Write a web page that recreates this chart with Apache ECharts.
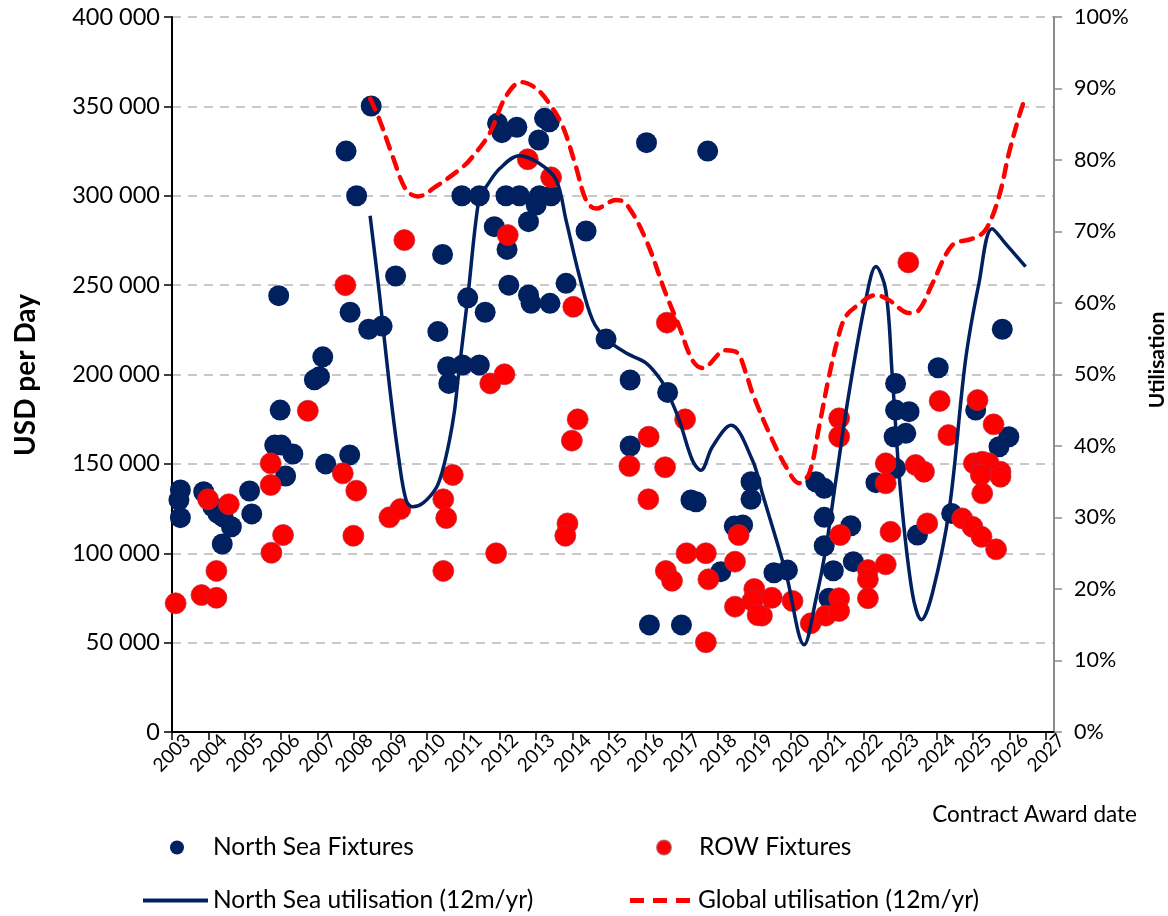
<!DOCTYPE html>
<html>
<head>
<meta charset="utf-8">
<script src="https://cdn.jsdelivr.net/npm/echarts@6/dist/echarts.min.js"></script>
<style>
html,body{margin:0;padding:0;background:#fff;}
#chart{width:1168px;height:916px;}
</style>
</head>
<body>
<div id="chart"></div>
<script>
// ---- Data ----
const yearTicks = [2003,2004,2005,2006,2007,2008,2009,2010,2011,2012,2013,2014,2015,2016,2017,2018,2019,2020,2021,2022,2023,2024,2025,2026,2027];

// North Sea fixtures: [contract award date (decimal year), USD per day]
const northSeaFixtures = [
  [2003.23,135400],[2003.19,129800],[2003.23,119900],[2003.87,134400],[2004.12,126000],
  [2004.26,122300],[2004.40,120400],[2004.63,114800],[2004.38,105200],[2005.13,134800],
  [2005.19,122000],[2005.82,160500],[2006.00,160500],[2006.32,155500],[2006.12,143200],
  [2005.97,180100],[2005.93,244100],[2006.91,197000],[2007.05,198800],[2007.14,209900],
  [2007.22,150000],[2007.78,325000],[2007.89,234800],[2007.88,155000],[2008.07,300000],
  [2008.40,225300],[2008.47,350200],[2008.77,227100],[2009.14,255100],[2010.30,224000],
  [2010.43,267200],[2010.57,204400],[2010.60,195000],[2010.98,205300],[2010.96,300000],
  [2011.44,205300],[2011.44,300000],[2011.12,242900],[2011.60,234800],[2011.94,340500],
  [2012.06,335300],[2012.47,338300],[2011.85,282700],[2012.17,300000],[2012.20,270000],
  [2012.25,250000],[2012.54,300000],[2012.79,285500],[2012.79,244500],[2012.86,239800],
  [2013.00,294800],[2013.07,331200],[2013.09,300000],[2013.23,343300],[2013.36,341400],
  [2013.41,300000],[2013.38,239800],[2013.82,251000],[2014.37,280300],[2014.92,219800],
  [2015.58,196900],[2015.58,160000],[2016.03,329700],[2016.11,59900],[2016.61,190000],
  [2016.99,59900],[2017.25,129800],[2017.39,128800],[2017.71,325000],[2018.07,89700],
  [2018.44,115200],[2018.67,115800],[2018.90,140000],[2018.90,130200],[2019.53,89100],
  [2019.90,90600],[2020.68,140000],[2020.91,136300],[2020.91,120100],[2020.91,104200],
  [2021.04,74800],[2021.16,90200],[2021.64,115400],[2021.71,95300],[2022.33,139500],
  [2022.87,147500],[2022.83,165200],[2023.15,167100],[2022.87,180100],[2023.24,179200],
  [2022.87,195000],[2023.47,110200],[2024.04,203800],[2024.41,122300],[2025.07,180100],
  [2025.80,225300],[2025.98,165200],[2025.71,159600]
];

// Rest-of-world fixtures: [contract award date, USD per day]
const rowFixtures = [
  [2003.10,72000],[2003.81,76600],[2004.22,75100],[2004.22,90100],[2003.99,130200],
  [2004.56,127400],[2005.71,150300],[2005.71,138200],[2006.05,110200],[2005.73,100300],
  [2006.73,179700],[2007.69,144700],[2007.76,250000],[2008.06,135000],[2007.98,109800],
  [2008.97,120100],[2009.27,124700],[2009.38,275200],[2010.71,143800],[2010.45,130200],
  [2010.53,119700],[2010.45,90100],[2011.74,195000],[2012.13,200100],[2011.90,100000],
  [2012.22,278000],[2012.77,320400],[2013.41,310300],[2014.02,237900],[2014.14,174900],
  [2013.98,163000],[2013.86,116700],[2013.80,109800],[2015.56,148800],[2016.09,165200],
  [2016.08,130200],[2016.54,148100],[2016.59,229000],[2016.56,90100],[2016.73,84600],
  [2017.09,174900],[2017.13,100000],[2017.66,100000],[2017.73,85400],[2017.66,50200],
  [2018.56,110200],[2018.46,95300],[2018.46,70100],[2018.99,80000],[2018.94,73400],
  [2019.20,65100],[2019.08,65400],[2019.47,75100],[2020.04,73300],[2020.54,60800],
  [2020.95,65100],[2021.32,74800],[2021.32,67700],[2021.35,110200],[2021.32,175500],
  [2021.32,165200],[2022.11,90600],[2022.11,85400],[2022.11,74800],[2022.60,93800],
  [2022.73,112000],[2022.60,150300],[2022.60,139100],[2023.22,262700],[2023.42,149400],
  [2023.65,145600],[2023.74,116700],[2024.08,185200],[2024.32,166100],[2024.70,119500],
  [2024.98,114800],[2025.23,109200],[2025.63,102200],[2025.12,185700],[2025.56,172100],
  [2025.02,150300],[2025.25,151200],[2025.43,150300],[2025.75,145600],[2025.75,142800],
  [2025.21,143800],[2025.25,133500]
];

// North Sea utilisation (12m/yr), percent
const northSeaUtil = [
  [2008.44,72.2],[2008.70,61.1],[2008.97,48.5],[2009.22,38.5],[2009.43,32.4],[2009.61,31.5],
  [2009.89,32.0],[2010.25,34.1],[2010.43,36.6],[2010.62,40.8],[2010.76,45.0],[2010.85,49.2],
  [2011.12,60.7],[2011.44,74.9],[2011.63,76.3],[2012.00,78.8],[2012.54,80.6],[2013.09,79.5],
  [2013.55,77.2],[2013.82,71.6],[2014.19,63.7],[2014.55,57.6],[2014.92,55.0],[2015.47,53.0],
  [2016.02,51.6],[2016.43,49.2],[2016.61,47.5],[2016.93,43.6],[2017.29,38.0],[2017.52,36.6],
  [2017.84,39.9],[2018.35,42.9],[2018.94,38.0],[2019.21,33.4],[2019.86,22.2],[2020.36,12.2],
  [2020.68,18.5],[2020.95,25.5],[2021.23,35.2],[2021.59,47.4],[2022.05,60.4],[2022.33,65.1],
  [2022.60,61.8],[2022.78,49.7],[2023.01,33.4],[2023.33,19.4],[2023.58,15.7],[2023.88,19.4],
  [2024.34,31.0],[2024.79,52.0],[2025.16,62.8],[2025.52,70.4],[2025.89,68.3],[2026.44,65.1]
];

// Global utilisation (12m/yr), percent
const globalUtil = [
  [2008.44,88.6],[2008.70,85.6],[2009.06,80.5],[2009.43,75.8],[2009.75,74.9],[2010.25,76.3],
  [2011.00,79.1],[2011.26,80.5],[2011.72,83.7],[2012.17,88.9],[2012.59,90.9],[2013.00,90.0],
  [2013.36,87.9],[2013.73,84.7],[2014.09,79.1],[2014.37,74.4],[2014.64,73.2],[2015.19,74.4],
  [2015.47,73.9],[2016.02,68.8],[2016.56,61.3],[2016.93,56.7],[2017.29,52.0],[2017.57,50.9],
  [2018.21,53.4],[2018.53,53.0],[2018.76,50.2],[2018.94,47.4],[2019.40,41.8],[2019.86,37.1],
  [2020.22,34.8],[2020.50,36.2],[2020.77,42.7],[2021.04,49.7],[2021.32,55.7],[2021.50,58.1],
  [2021.78,59.5],[2022.33,61.1],[2022.69,60.4],[2023.24,58.6],[2023.51,59.0],[2023.88,62.7],
  [2024.43,68.1],[2024.98,69.0],[2025.34,70.2],[2025.71,74.9],[2025.98,80.9],[2026.26,86.1],
  [2026.42,88.6]
];

const seriesNames = ['North Sea Fixtures','ROW Fixtures','North Sea utilisation (12m/yr)','Global utilisation (12m/yr)'];
const axisTitles = {left: 'USD per Day', right: 'Utilisation', bottom: 'Contract Award date'};

// ---- Chart ----
const FONT = 'Lato';
const NAVY = '#002060';
const RED = '#FF0000';
const chart = echarts.init(document.getElementById('chart'), null, {renderer:'canvas'});

const option = {
  backgroundColor: '#ffffff',
  animation: false,
  textStyle: {fontFamily: FONT, color: '#000'},
  grid: {left: 172, right: 114, top: 17, bottom: 184, containLabel: false},
  xAxis: {
    type: 'value', min: yearTicks[0], max: 2027.22, interval: 1,
    axisLine: {show: true, lineStyle: {color: '#000', width: 2}},
    axisTick: {show: true, length: 8, lineStyle: {color: '#000', width: 1.5}},
    splitLine: {show: false},
    axisLabel: {
      rotate: 45, fontSize: 19, color: '#000', fontFamily: FONT, margin: 21,
      align: 'center', verticalAlign: 'middle',
      showMaxLabel: false,
      formatter: v => (yearTicks.indexOf(Math.round(v)) >= 0 && Math.abs(v - Math.round(v)) < 1e-6) ? String(Math.round(v)) : ''
    }
  },
  yAxis: [
    {
      type: 'value', min: 0, max: 400000, interval: 50000, position: 'left',
      axisLine: {show: true, lineStyle: {color: '#000', width: 2}},
      axisTick: {show: true, length: 8, lineStyle: {color: '#000', width: 1.5}},
      splitLine: {show: true, lineStyle: {color: '#c8c8c8', width: 2, type: [9, 7]}},
      axisLabel: {fontSize: 23.5, color: '#000', fontFamily: FONT, margin: 12,
        formatter: v => v === 0 ? '0' : (v / 1000) + ' 000'}
    },
    {
      type: 'value', min: 0, max: 100, interval: 10, position: 'right',
      axisLine: {show: true, lineStyle: {color: '#8c8c8c', width: 2}},
      axisTick: {show: true, length: 8, lineStyle: {color: '#8c8c8c', width: 1.5}},
      splitLine: {show: false},
      axisLabel: {fontSize: 21.5, color: '#000', fontFamily: FONT, margin: 20,
        formatter: v => v + '%'}
    }
  ],
  legend: [
    {data: [seriesNames[0]], left: 170, top: 835, padding: 0, itemWidth: 14, itemHeight: 20, icon: 'circle',
     textStyle: {fontSize: 24.5, color: '#000', fontFamily: FONT, padding: [0,0,0,24]}},
    {data: [seriesNames[1]], left: 656, top: 835, padding: 0, itemWidth: 14, itemHeight: 20, icon: 'circle',
     textStyle: {fontSize: 24.5, color: '#000', fontFamily: FONT, padding: [0,0,0,23]}},
    {data: [seriesNames[2]], left: 143, top: 888, padding: 0, itemWidth: 65, itemHeight: 4, icon: 'rect',
     textStyle: {fontSize: 24.5, color: '#000', fontFamily: FONT}},
    {data: [seriesNames[3]], left: 630, top: 888, padding: 0, itemWidth: 60, itemHeight: 5,
     icon: 'path://M0,0h14v5h-14z M23,0h14v5h-14z M46,0h14v5h-14z',
     textStyle: {fontSize: 24.5, color: '#000', fontFamily: FONT, padding: [0,0,0,3]}}
  ],
  graphic: [
    {type: 'text', right: 31, top: 803,
     style: {text: axisTitles.bottom, font: '22.5px ' + FONT, fill: '#000'}},
    {type: 'text', x: 26, y: 375, rotation: Math.PI / 2,
     style: {text: axisTitles.left, font: 'bold 28px ' + FONT, fill: '#000', align: 'center', verticalAlign: 'middle'}},
    {type: 'text', x: 1157, y: 360, rotation: Math.PI / 2,
     style: {text: axisTitles.right, font: 'bold 21px ' + FONT, fill: '#000', align: 'center', verticalAlign: 'middle'}}
  ],
  series: [
    {
      name: seriesNames[0], type: 'scatter', xAxisIndex: 0, yAxisIndex: 0,
      symbol: 'circle', symbolSize: 21,
      itemStyle: {color: NAVY, opacity: 1},
      data: northSeaFixtures, z: 2
    },
    {
      name: seriesNames[1], type: 'scatter', xAxisIndex: 0, yAxisIndex: 0,
      symbol: 'circle', symbolSize: 21,
      itemStyle: {color: RED, borderColor: 'rgba(190,40,60,0.7)', borderWidth: 1, opacity: 1},
      data: rowFixtures, z: 3
    },
    {
      name: seriesNames[2], type: 'line', xAxisIndex: 0, yAxisIndex: 1,
      smooth: 0.35, symbol: 'none', showSymbol: false,
      lineStyle: {color: NAVY, width: 3.5},
      itemStyle: {color: NAVY},
      data: northSeaUtil, z: 4
    },
    {
      name: seriesNames[3], type: 'line', xAxisIndex: 0, yAxisIndex: 1,
      smooth: 0.35, symbol: 'none', showSymbol: false,
      lineStyle: {color: RED, width: 4.5, type: [12, 9], cap: 'round'},
      itemStyle: {color: RED},
      data: globalUtil, z: 5
    }
  ]
};
chart.setOption(option);
</script>
</body>
</html>
